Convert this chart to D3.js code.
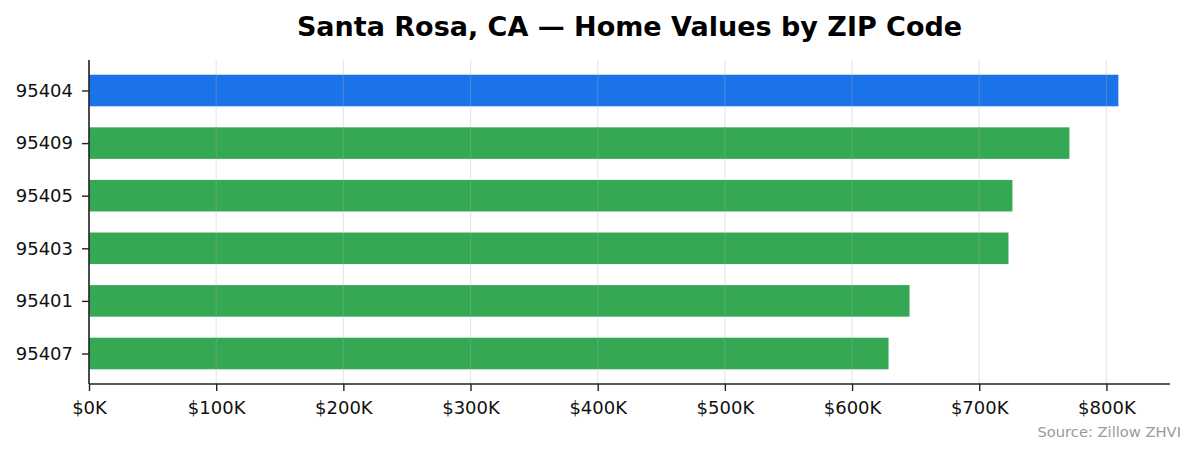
<!DOCTYPE html>
<html>
<head>
<meta charset="utf-8">
<script src="https://cdn.jsdelivr.net/npm/d3@7"></script>
<style>
  body { margin: 0; background: #fff; }
  svg { font-family: "DejaVu Sans", sans-serif; }
</style>
</head>
<body>
<div id="chart"></div>
<script>
// data, top bar first
const zips = ["95404", "95409", "95405", "95403", "95401", "95407"]
const homeValues = [809400, 770900, 726100, 723000, 645200, 628700]
const highlightZip = "95404"
const xTicks = [0, 100000, 200000, 300000, 400000, 500000, 600000, 700000, 800000]

function drawChart() {
    let dimensions = {
        width: 1195,
        height: 455,
        margin: {
            top: 60,
            right: 25,
            bottom: 71,
            left: 89,
        },
    }
    dimensions.boundedWidth = dimensions.width - dimensions.margin.left - dimensions.margin.right
    dimensions.boundedHeight = dimensions.height - dimensions.margin.top - dimensions.margin.bottom

    const svg = d3.select("#chart").append("svg")
        .attr("width", dimensions.width)
        .attr("height", dimensions.height)

    const bounds = svg.append("g")
        .attr("transform", `translate(${dimensions.margin.left},${dimensions.margin.top})`)

    let x = d3.scaleLinear()
        .domain([0, 850000])
        .range([0, dimensions.boundedWidth])

    // index scale, matplotlib-like margins around the bars
    let y = d3.scaleLinear()
        .domain([-0.58, zips.length - 1 + 0.58])
        .range([0, dimensions.boundedHeight])

    const barH = y(0.6) - y(0)

    bounds.selectAll("rect.bar")
        .data(zips)
        .enter()
        .append("rect")
        .attr("class", "bar")
        .attr("x", x(0))
        .attr("y", (d, i) => y(i) - barH / 2)
        .attr("width", (d, i) => x(homeValues[i]) - x(0))
        .attr("height", barH)
        .style("fill", d => d == highlightZip ? "#1a73e8" : "#34a853")

    // grid on top of bars
    bounds.append("g")
        .selectAll("line")
        .data(xTicks)
        .enter()
        .append("line")
        .attr("x1", d => x(d))
        .attr("x2", d => x(d))
        .attr("y1", 0)
        .attr("y2", dimensions.boundedHeight)
        .style("stroke", "#b0b0b0")
        .style("stroke-opacity", 0.3)
        .style("stroke-width", 1.2)

    const xAxis = bounds.append("g")
        .attr("transform", `translate(0,${dimensions.boundedHeight})`)
        .call(d3.axisBottom(x).tickValues(xTicks).tickSize(7).tickPadding(10)
            .tickFormat(d => "$" + d3.format(",")(d / 1000) + "K"))
    xAxis.select(".domain").style("stroke", "#222").style("stroke-width", 1.6)
        .attr("d", `M0,0H${dimensions.boundedWidth}`)

    const yAxis = bounds.append("g")
        .call(d3.axisLeft(y).tickValues(d3.range(zips.length)).tickSize(7).tickPadding(9)
            .tickFormat(i => zips[i]))
    yAxis.select(".domain").style("stroke", "#222").style("stroke-width", 1.6)
        .attr("d", `M0,0V${dimensions.boundedHeight}`)

    svg.selectAll(".tick line").style("stroke", "#222").style("stroke-width", 1.4)
    svg.selectAll(".tick text").style("font-size", "18px").style("fill", "#111")
        .style("font-family", "DejaVu Sans")

    svg.append("text")
        .attr("x", dimensions.margin.left + dimensions.boundedWidth / 2)
        .attr("y", 36)
        .attr("text-anchor", "middle")
        .style("font-size", "27px")
        .style("font-weight", "bold")
        .text("Santa Rosa, CA \u2014 Home Values by ZIP Code")

    svg.append("text")
        .attr("x", 1181)
        .attr("y", 437)
        .attr("text-anchor", "end")
        .style("font-size", "14.7px")
        .style("fill", "#999")
        .text("Source: Zillow ZHVI")
}

drawChart()
</script>
</body>
</html>
